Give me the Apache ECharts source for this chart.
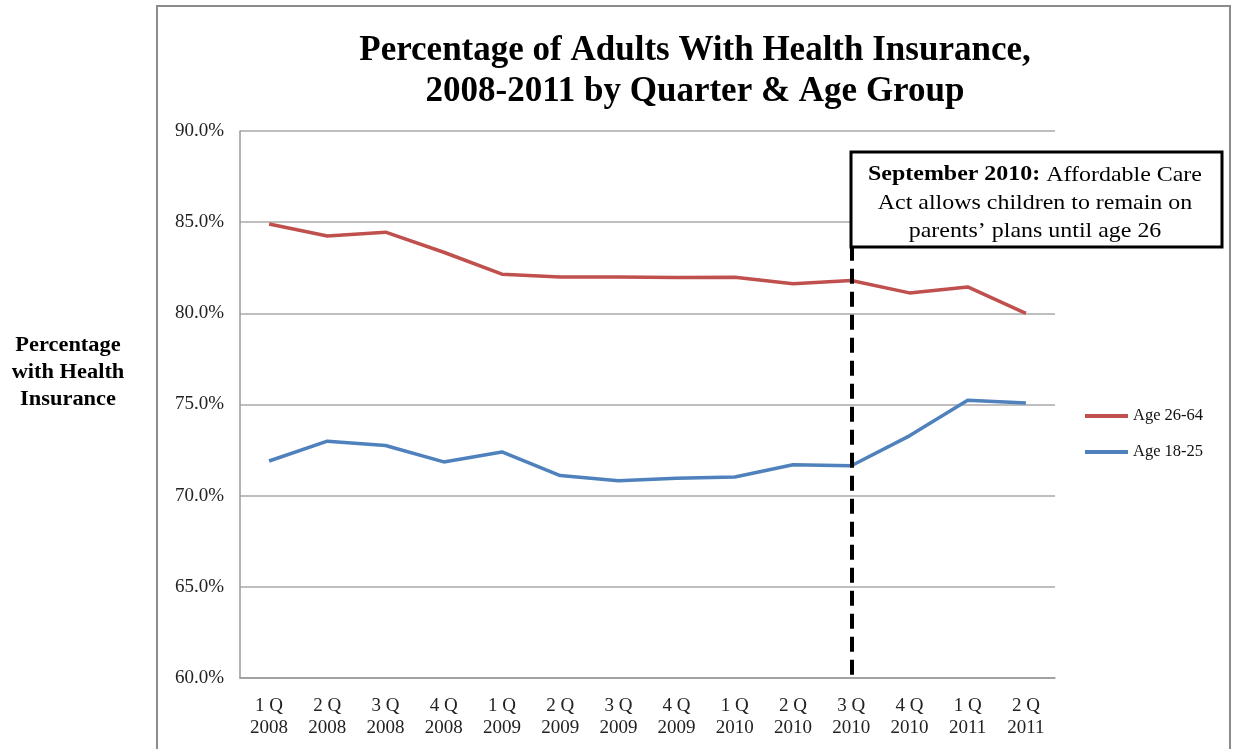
<!DOCTYPE html>
<html>
<head>
<meta charset="utf-8">
<script src="https://cdn.jsdelivr.net/npm/echarts@6/dist/echarts.min.js"></script>
<style>
  html, body { margin: 0; padding: 0; background: #fff; }
  #chart { width: 1233px; height: 749px; }
</style>
</head>
<body>
<div id="chart"></div>
<script>
// data
const quarters = ['1 Q\n2008', '2 Q\n2008', '3 Q\n2008', '4 Q\n2008', '1 Q\n2009', '2 Q\n2009', '3 Q\n2009',
  '4 Q\n2009', '1 Q\n2010', '2 Q\n2010', '3 Q\n2010', '4 Q\n2010', '1 Q\n2011', '2 Q\n2011'];
const age2664 = [84.9, 84.24, 84.45, 83.35, 82.15, 81.99, 81.99, 81.96, 81.98, 81.62, 81.8, 81.12, 81.45, 80.0];
const age1825 = [71.9, 72.99, 72.75, 71.85, 72.4, 71.1, 70.82, 70.96, 71.02, 71.7, 71.64, 73.28, 75.23, 75.08];
const actQuarter = '3 Q\n2010';
const actLineTop = 83.7;

const serif = 'Liberation Serif';
const chart = echarts.init(document.getElementById('chart'));

const option = {
  backgroundColor: '#fff',
  animation: false,
  textStyle: { fontFamily: serif },
  title: {
    text: 'Percentage of Adults With Health Insurance,\n2008-2011 by Quarter & Age Group',
    left: 690, top: 25, textAlign: 'center',
    textStyle: { fontFamily: serif, fontSize: 35, fontWeight: 'bold', color: '#000', lineHeight: 41 }
  },
  legend: {
    orient: 'vertical',
    left: 1080, top: 401,
    icon: 'rect',
    itemWidth: 43, itemHeight: 4,
    itemGap: 16,
    textStyle: { fontFamily: serif, fontSize: 16.5, color: '#111', lineHeight: 20 },
    data: ['Age 26-64', 'Age 18-25']
  },
  grid: { left: 240, right: 178, top: 131, bottom: 71, containLabel: false },
  xAxis: {
    type: 'category',
    data: quarters,
    boundaryGap: true,
    axisLine: { lineStyle: { color: '#999', width: 1.5 } },
    axisTick: { show: false },
    axisLabel: { fontFamily: serif, fontSize: 19, color: '#222', lineHeight: 22, margin: 17, interval: 0 }
  },
  yAxis: {
    type: 'value',
    min: 60, max: 90, interval: 5,
    axisLine: { show: true, lineStyle: { color: '#999', width: 1.5 } },
    axisTick: { show: false },
    axisLabel: { fontFamily: serif, fontSize: 19, color: '#222', margin: 16, formatter: v => v.toFixed(1) + '%' },
    splitLine: { lineStyle: { color: '#a8a8a8', width: 1.5 } }
  },
  series: [
    {
      name: 'Age 26-64', type: 'line', data: age2664,
      symbol: 'none', color: '#C0504D',
      lineStyle: { width: 3.5, color: '#C0504D' },
      markLine: {
        silent: true, symbol: 'none',
        label: { show: false },
        lineStyle: { color: '#000', width: 4, type: [15, 8] },
        data: [[{ coord: [actQuarter, actLineTop] }, { coord: [actQuarter, 60] }]]
      }
    },
    {
      name: 'Age 18-25', type: 'line', data: age1825,
      symbol: 'none', color: '#4F81BD',
      lineStyle: { width: 3.5, color: '#4F81BD' }
    }
  ],
  graphic: [
    {
      type: 'rect', silent: true, z: 0,
      shape: { x: 157, y: 6, width: 1073, height: 760 },
      style: { fill: 'none', stroke: '#8c8c8c', lineWidth: 2 }
    },
    {
      // y-axis title
      type: 'text', z: 5,
      x: 68, y: 332, scaleX: 1.12,
      style: {
        text: 'Percentage\nwith Health\nInsurance',
        align: 'center', verticalAlign: 'top',
        font: 'bold 20px "Liberation Serif"', fill: '#000', lineHeight: 27
      }
    },
    {
      type: 'rect', z: 10,
      shape: { x: 851, y: 152, width: 371, height: 95 },
      style: { fill: '#fff', stroke: '#000', lineWidth: 3 }
    },
    {
      type: 'text', z: 11,
      x: 1035, y: 161, scaleX: 1.14,
      style: {
        text: '{b|September 2010:} Affordable Care\nAct allows children to remain on\nparents\u2019 plans until age 26',
        align: 'center', verticalAlign: 'top',
        font: '21px "Liberation Serif"', fill: '#000', lineHeight: 28,
        rich: { b: { fontWeight: 'bold', fontSize: 21, fontFamily: serif, fill: '#000', lineHeight: 28 } }
      }
    }
  ]
};

chart.setOption(option);
</script>
</body>
</html>
